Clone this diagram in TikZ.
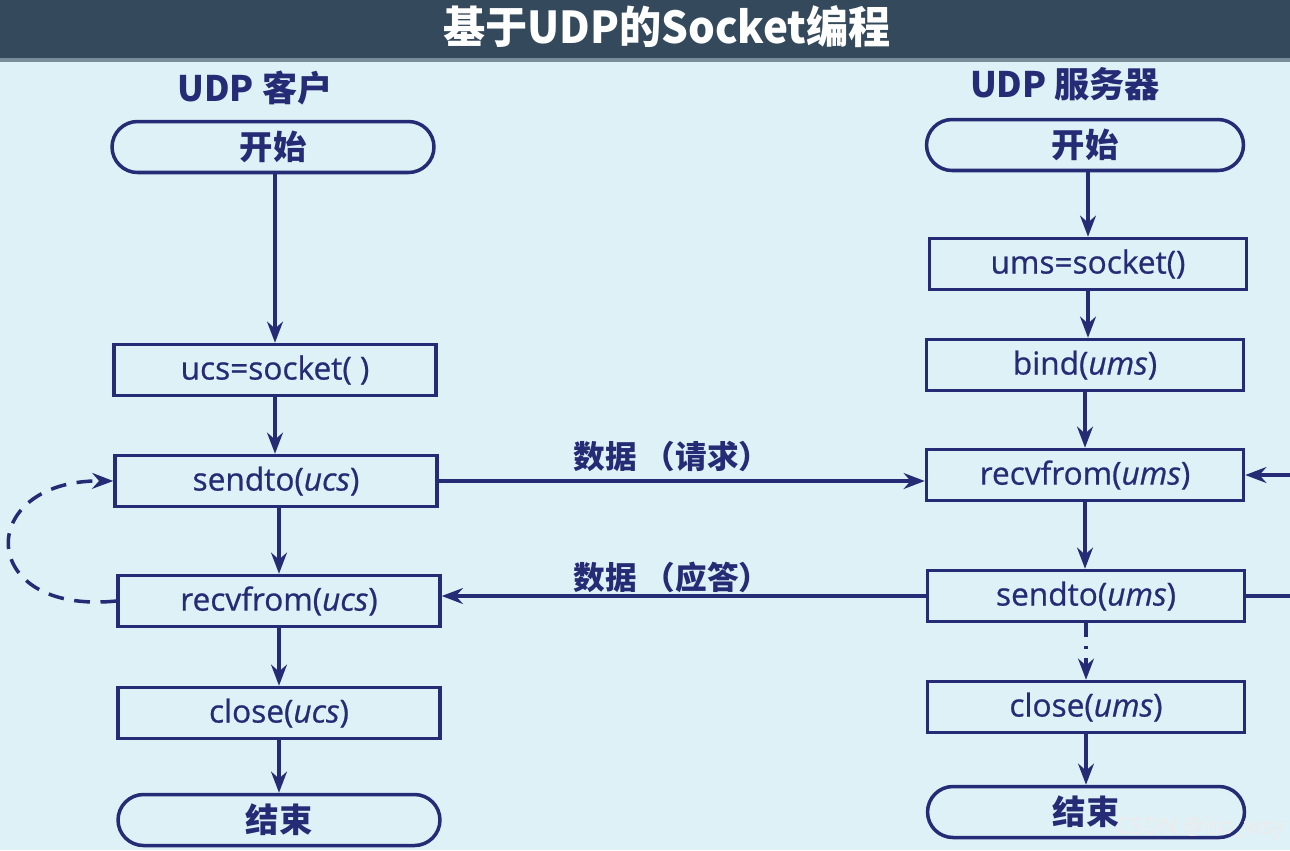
\documentclass[tikz,border=0pt]{standalone}
\usepackage{fontspec}
\setmainfont{Open Sans}[FakeBold=0.7]
\newfontfamily\cjk{Noto Sans CJK SC}
\usetikzlibrary{arrows.meta,shapes.misc}
\definecolor{bg}{HTML}{DDF1F6}
\definecolor{bar}{HTML}{34495B}
\definecolor{ink}{HTML}{252B74}
\begin{document}
\begin{tikzpicture}[x=0.02cm,y=-0.02cm,
  inkline/.style={draw=ink, line width=2pt},
  proc/.style={inkline, fill=bg, minimum height=1.02cm, text=ink, inner sep=0pt,
    font=\fontsize{18}{20}\selectfont},
  cbox/.style={proc, minimum width=6.44cm},
  sbox/.style={proc, minimum width=6.34cm},
  term/.style={rounded rectangle, font=\cjk\bfseries\fontsize{19}{22}\selectfont},
  flow/.style={inkline, -{Stealth[length=12pt,width=9pt]}},
  head/.style={text=ink, font=\cjk\bfseries\fontsize{20}{24}\selectfont},
  msg/.style={text=ink, font=\cjk\bfseries\fontsize{18}{22}\selectfont}]
\useasboundingbox (0,0) rectangle (1290,850);
\fill[bg] (0,0) rectangle (1290,850);
\fill[bar] (0,0) rectangle (1290,58);
\fill[bar!60!bg] (0,58) rectangle (1290,62);
\node[text=white, font=\cjk\bfseries\fontsize{25}{30}\selectfont, xscale=0.96] (title) at (667,27) {基于UDP的Socket编程};
% headings
\node[head] (hc) at (255,88) {UDP 客户};
\node[head] (hs) at (1065,84) {UDP 服务器};
% client
\node[cbox, term] (cstart) at (273,147) {开始};
\node[cbox] (csock) at (275,370) {ucs=socket( )};
\node[cbox] (csend) at (276,481) {sendto(\textit{ucs})};
\node[cbox] (crecv) at (279,601) {recvfrom(\textit{ucs})};
\node[cbox] (cclose) at (279,713) {close(\textit{ucs})};
\node[cbox, term] (cend) at (279,820) {结束};
% server
\node[sbox, term] (sstart) at (1085,145) {开始};
\node[sbox] (ssock) at (1088,264) {ums=socket()};
\node[sbox] (sbind) at (1085,365) {bind(\textit{ums})};
\node[sbox] (srecv) at (1085,475) {recvfrom(\textit{ums})};
\node[sbox] (ssend) at (1086,596) {sendto(\textit{ums})};
\node[sbox] (sclose) at (1086,707) {close(\textit{ums})};
\node[sbox, term] (send) at (1086,812) {结束};
% client flow
\draw[flow] (cstart.south -| csock.north) -- (csock.north);
\draw[flow] (csock.south) -- (csock.south |- csend.north);
\draw[flow] (csend.south -| crecv.north) -- (crecv.north);
\draw[flow] (crecv.south) -- (crecv.south |- cclose.north);
\draw[flow] (cclose.south) -- (cend.north);
\draw[flow, dash pattern=on 9pt off 6pt] (crecv.west) .. controls (-25,615) and (-25,480) .. (csend.west);
% server flow
\draw[flow] (sstart.south -| ssock.north) -- (ssock.north);
\draw[flow] (ssock.south) -- (ssock.south |- sbind.north);
\draw[flow] (sbind.south) -- (srecv.north);
\draw[flow] (srecv.south) -- (srecv.south |- ssend.north);
\draw[flow, dash pattern=on 8pt off 5pt on 1.5pt off 5pt] (ssend.south) -- (sclose.north);
\draw[flow] (sclose.south) -- (send.north);
% messages
\draw[flow] (csend.east) -- (srecv.west |- csend.east);
\draw[flow] (ssend.west) -- (crecv.east |- ssend.west);
\node[msg] (req) at (672,456) {数据 （请求）};
\node[msg] (rep) at (672,577) {数据 （应答）};
\coordinate (rin) at (1290,475);
\coordinate (rout) at (1290,596);
\draw[flow] (rin) -- (srecv.east);
\draw[inkline] (ssend.east) -- (rout);
\node[text=white!85!gray, font=\fontsize{13}{15}\selectfont] (wm) at (1200,828) {CSDN @iso\_wsy};
\end{tikzpicture}
\end{document}
